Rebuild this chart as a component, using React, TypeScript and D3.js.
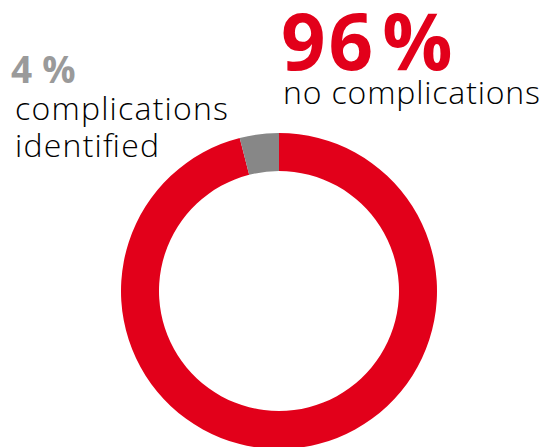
import React from 'react';
import * as d3 from 'd3';

const categories = ['no complications', 'complications identified'];
const values = [96, 4];
const colors = ['#e2001a', '#878787'];

const width = 544;
const height = 447;

const App: React.FC = () => {
  const cx = 279;
  const cy = 291;
  const outer = 158;
  const inner = 120;

  const pie = d3.pie<number>().sort(null).value(d => d);
  const arcs = pie(values);
  const arc = d3.arc<d3.PieArcDatum<number>>().innerRadius(inner).outerRadius(outer);

  const font = "'Open Sans', 'Noto Sans', sans-serif";

  return (
    <svg
      width={width}
      height={height}
      style={{ position: 'absolute', left: 0, top: 0, background: '#fff' }}
    >
      <g transform={`translate(${cx},${cy})`}>
        {arcs.map((a, i) => (
          <path key={categories[i]} d={arc(a) || ''} fill={colors[i]} />
        ))}
      </g>

      <text x={281} y={70} fill="#e2001a" fontFamily={font} fontWeight={700} fontSize={78} letterSpacing={3}>
        <tspan>{values[0]}</tspan>
        <tspan dx={6}>%</tspan>
      </text>
      <text x={283} y={104} fill="#000" fontFamily={font} fontWeight={300} fontSize={32}
        textLength={257} lengthAdjust="spacing">
        {categories[0]}
      </text>

      <text x={11} y={83} fill="#9a9a9a" fontFamily={font} fontWeight={700} fontSize={37}>
        <tspan>{values[1]}</tspan>
        <tspan dx={10}>%</tspan>
      </text>
      <text x={15} y={120} fill="#000" fontFamily={font} fontWeight={300} fontSize={32}
        textLength={213} lengthAdjust="spacing">
        complications
      </text>
      <text x={15} y={157} fill="#000" fontFamily={font} fontWeight={300} fontSize={32}
        textLength={144} lengthAdjust="spacing">
        identified
      </text>
    </svg>
  );
};

export default App;
